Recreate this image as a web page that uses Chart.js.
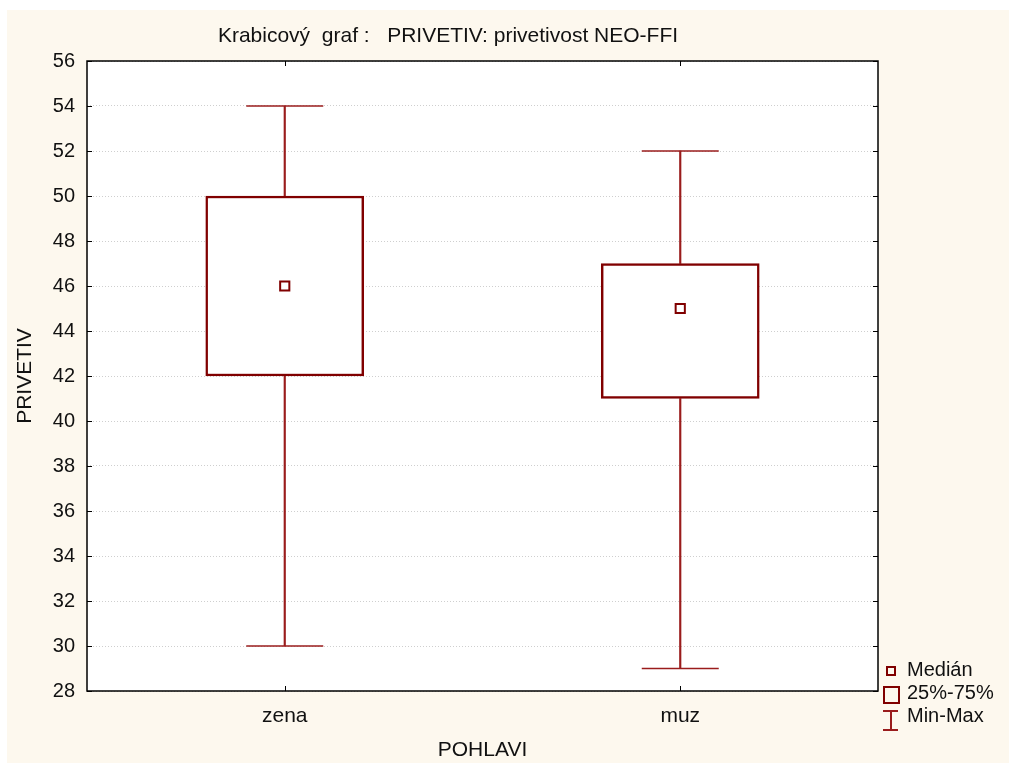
<!DOCTYPE html>
<html>
<head>
<meta charset="utf-8">
<script src="https://cdn.jsdelivr.net/npm/chart.js@4"></script>
<style>
  html, body { margin: 0; padding: 0; background: #ffffff; }
  body { width: 1009px; height: 763px; position: relative; overflow: hidden; font-family: 'Liberation Sans', Arial, sans-serif; }
  #frame { position: absolute; left: 7px; top: 10px; width: 1002px; height: 753px; background: #fdf8ee; }
  #title { position: absolute; left: 0; width: 896px; top: 23px; line-height: 24px; text-align: center; font-size: 21px; white-space: pre; color: #111; }
  #legend { position: absolute; left: 882px; top: 658px; font-size: 20px; color: #111; }
  .row { height: 23px; line-height: 23px; position: relative; padding-left: 25px; }
  .ico { position: absolute; box-sizing: border-box; }
</style>
</head>
<body>
<div id="frame"><canvas id="chart" width="1002" height="753"></canvas></div>
<div id="title">Krabicový  graf :   PRIVETIV: privetivost NEO-FFI</div>
<div id="legend">
  <div class="row"><span class="ico" style="left:4px;top:8px;width:10px;height:10px;border:2px solid #800000;"></span>Medián</div>
  <div class="row"><span class="ico" style="left:1px;top:5px;width:17px;height:18px;border:2.5px solid #800000;"></span>25%-75%</div>
  <div class="row"><span class="ico" style="left:8px;top:6px;width:1.5px;height:20px;background:#9a1c1c;"></span>
    <span class="ico" style="left:1px;top:6px;width:15px;height:1.5px;background:#9a1c1c;"></span>
    <span class="ico" style="left:1px;top:25px;width:15px;height:1.5px;background:#9a1c1c;"></span>Min-Max</div>
</div>
<script>
var categories = ['zena', 'muz'];
var minVals = [30, 29];
var q1Vals = [42, 41];
var medianVals = [46, 45];
var q3Vals = [50, 47];
var maxVals = [54, 52];
var yMin = 28, yMax = 56, yStep = 2;

var dark = '#800000';
var whisk = '#9a1c1c';
var fontFam = "'Liberation Sans', Arial, sans-serif";

// white plot area, black frame and small inward ticks like the original
var plotFrame = {
    id: 'plotFrame',
    beforeDatasetsDraw: function(chart) {
        var a = chart.chartArea, ctx = chart.ctx;
        ctx.save();
        ctx.globalCompositeOperation = 'destination-over';
        ctx.fillStyle = '#ffffff';
        ctx.fillRect(a.left, a.top, a.right - a.left, a.bottom - a.top);
        ctx.restore();
    },
    afterDraw: function(chart) {
        var a = chart.chartArea, ctx = chart.ctx;
        var ys = chart.scales.y, xs = chart.scales.x;
        ctx.save();
        ctx.strokeStyle = '#000';
        ctx.lineWidth = 1.5;
        ctx.strokeRect(a.left, a.top, a.right - a.left, a.bottom - a.top);
        ctx.lineWidth = 1;
        ctx.beginPath();
        ys.ticks.forEach(function(t) {
            var p = Math.round(ys.getPixelForValue(t.value)) + 0.5;
            ctx.moveTo(a.left, p); ctx.lineTo(a.left + 5, p);
            ctx.moveTo(a.right, p); ctx.lineTo(a.right - 5, p);
        });
        categories.forEach(function(c, i) {
            var p = Math.round(xs.getPixelForValue(i)) + 0.5;
            ctx.moveTo(p, a.top); ctx.lineTo(p, a.top + 5);
            ctx.moveTo(p, a.bottom); ctx.lineTo(p, a.bottom - 5);
        });
        ctx.stroke();
        ctx.restore();
    }
};

function range(lo, hi) {
    return lo.map(function(v, i) { return [v, hi[i]]; });
}

var config = {
    type: 'bar',
    data: {
        labels: categories,
        datasets: [
            {   // upper whisker
                data: range(q3Vals, maxVals),
                backgroundColor: whisk, borderWidth: 0,
                barThickness: 1.5, grouped: false, order: 3
            },
            {   // lower whisker
                data: range(minVals, q1Vals),
                backgroundColor: whisk, borderWidth: 0,
                barThickness: 1.5, grouped: false, order: 3
            },
            {   // box 25%-75%
                data: range(q1Vals, q3Vals),
                backgroundColor: '#ffffff', borderColor: dark, borderWidth: 2.5,
                borderSkipped: false, barThickness: 158, grouped: false, order: 2
            },
            {   // caps
                type: 'line',
                data: maxVals,
                showLine: false, pointStyle: 'line', pointRadius: 38.5, pointHoverRadius: 38.5,
                pointBorderColor: whisk, pointBorderWidth: 1.5, order: 1
            },
            {
                type: 'line',
                data: minVals,
                showLine: false, pointStyle: 'line', pointRadius: 38.5, pointHoverRadius: 38.5,
                pointBorderColor: whisk, pointBorderWidth: 1.5, order: 1
            },
            {   // median
                type: 'line',
                data: medianVals,
                showLine: false, pointStyle: 'rect', pointRadius: 6.5, pointHoverRadius: 6.5,
                pointBackgroundColor: '#ffffff', pointBorderColor: dark, pointBorderWidth: 2, order: 0
            }
        ]
    },
    options: {
        responsive: false,
        animation: false,
        events: [],
        layout: { padding: { left: 0, top: 51, right: 131, bottom: 0 } },
        plugins: {
            legend: { display: false },
            tooltip: { enabled: false }
        },
        scales: {
            x: {
                offset: true,
                grid: { display: false, drawTicks: false },
                border: { display: false },
                ticks: { color: '#111', font: { family: fontFam, size: 21 }, padding: 13 },
                title: { display: true, text: 'POHLAVI', color: '#111', font: { family: fontFam, size: 21 }, padding: { top: 4, bottom: 0 } },
                afterFit: function(s) { s.height = 72; }
            },
            y: {
                min: yMin, max: yMax,
                grid: { color: '#cfcfcf', lineWidth: 1, drawTicks: false },
                border: { display: false, dash: [1, 2] },
                ticks: { stepSize: yStep, color: '#111', font: { family: fontFam, size: 20 }, padding: 12 },
                title: { display: true, text: 'PRIVETIV', color: '#111', font: { family: fontFam, size: 21 }, padding: { top: 6, bottom: 6 } },
                afterFit: function(s) { s.width = 80; }
            }
        }
    },
    plugins: [plotFrame]
};

var chart = new Chart(document.getElementById('chart'), config);
</script>
</body>
</html>
